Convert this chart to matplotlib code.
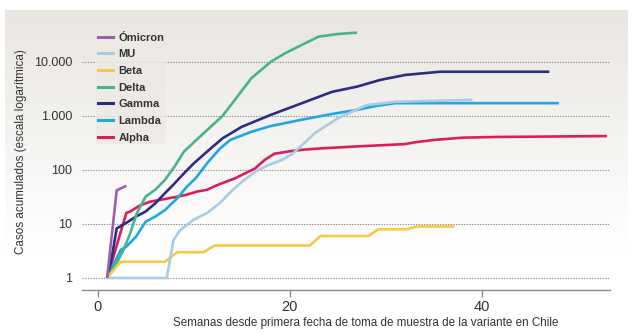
import numpy as np
import matplotlib
matplotlib.use("Agg")
import matplotlib.pyplot as plt
from matplotlib.lines import Line2D

# ---------------- data ----------------
weeks_omicron = [1, 2, 3]
cases_omicron = [1, 42, 51]

weeks_mu = [1, 7.2, 7.9, 8.6, 10, 11.4, 12.8, 13.9, 15, 16.4, 17.8, 19.2, 20.3, 22.6, 25, 26.1, 28, 31, 39]
cases_mu = [1, 1, 5, 7.7, 12, 16, 25, 40, 60, 93, 124, 154, 200, 480, 910, 1120, 1590, 1830, 1990]

weeks_beta = [1, 2.4, 7, 8.3, 11, 12.2, 22.1, 23.2, 28.2, 29.2, 32.2, 33.2, 37.1]
cases_beta = [1, 2, 2, 3, 3, 4, 4, 6, 6, 8, 8, 9, 9]

weeks_delta = [1, 2, 2.7, 3.4, 4.1, 5, 6, 7, 8, 9, 11.4, 13, 14.3, 16, 18, 19.5, 23, 25, 27]
cases_delta = [1, 1.9, 3.3, 6.7, 16, 32, 43, 65, 115, 220, 550, 1000, 2000, 5000, 10000, 14500, 29500, 33000, 35000]

weeks_gamma = [1, 1.5, 2, 3, 4, 5, 6, 7, 8, 9, 10, 11.4, 13, 15, 18, 21.6, 24.4, 27, 29.4, 32, 35.6, 47]
cases_gamma = [1, 2.5, 8.3, 10.5, 13.7, 17, 24, 37, 56, 87, 132, 219, 385, 630, 1045, 1820, 2800, 3500, 4650, 5750, 6600, 6600]

weeks_lambda = [1, 2.4, 3, 4, 5, 6, 7, 8.3, 9.3, 10.2, 11.5, 12.7, 13.8, 16, 18, 21.2, 24.4, 27, 29, 31, 48]
cases_lambda = [1, 3.3, 3.8, 5.8, 11, 13.7, 18, 30, 49, 70, 140, 245, 360, 510, 650, 850, 1090, 1300, 1540, 1730, 1730]

weeks_alpha = [1, 3, 3.4, 4.4, 5.5, 7, 8.3, 9.3, 10.4, 11.4, 12.4, 13.5, 14.3, 15.7, 16.4, 17.4, 18.4, 20, 21.2, 23.3, 27.3, 32, 33, 35, 38, 41.5, 53]
cases_alpha = [1, 16, 17, 22, 26, 29, 32, 35, 40, 43, 52, 62, 70, 93, 107, 154, 200, 222, 236, 252, 275, 302, 325, 360, 397, 409, 425]

variant_names = ["Ómicron", "MU", "Beta", "Delta", "Gamma", "Lambda", "Alpha"]
y_ticks = [1, 10, 100, 1000, 10000]
y_tick_labels = ["1", "10", "100", "1.000", "10.000"]
x_ticks = [0, 20, 40]
x_tick_labels = ["0", "20", "40"]

colors = {
    "Ómicron": "#9c5fae",
    "MU": "#a9cbe3",
    "Beta": "#f6c844",
    "Delta": "#46b48e",
    "Gamma": "#2e2c80",
    "Lambda": "#1ea8e2",
    "Alpha": "#d81f5c",
}

series = {
    "Ómicron": (weeks_omicron, cases_omicron),
    "MU": (weeks_mu, cases_mu),
    "Beta": (weeks_beta, cases_beta),
    "Delta": (weeks_delta, cases_delta),
    "Gamma": (weeks_gamma, cases_gamma),
    "Lambda": (weeks_lambda, cases_lambda),
    "Alpha": (weeks_alpha, cases_alpha),
}

FONT = ["Liberation Sans", "DejaVu Sans"]

W, H = 636, 334
fig = plt.figure(figsize=(W / 100, H / 100), dpi=100)
fig.patch.set_facecolor("white")

# gradient background panel
bg = fig.add_axes([0, 0, 1, 1], zorder=-5)
bg.set_xlim(0, W)
bg.set_ylim(H, 0)
bg.axis("off")
g = np.linspace(0, 1, 256)[:, None, None]
top = np.array([233, 230, 225]) / 255.0
bot = np.array([1.0, 1.0, 1.0])
img = top[None, None, :] * (1 - g) + bot[None, None, :] * g
img = np.repeat(img, 2, axis=1)
bg.imshow(img, extent=[5, 628, 250, 10], aspect="auto", interpolation="bilinear")

# main axes
ax_left, ax_right, ax_top, ax_bottom = 82, 610, 20, 290
ax = fig.add_axes([ax_left / W, 1 - ax_bottom / H, (ax_right - ax_left) / W, (ax_bottom - ax_top) / H])
ax.patch.set_visible(False)
ax.set_yscale("log")
ax.set_ylim(10 ** (-12 / 54), 10 ** (258 / 54))
ax.set_xlim(-15.5 / 9.6125, 512.5 / 9.6125)

for sp in ["top", "right", "left"]:
    ax.spines[sp].set_visible(False)
ax.spines["bottom"].set_color("#8a8a8a")
ax.spines["bottom"].set_linewidth(1.0)

ax.set_yticks(y_ticks)
ax.set_yticklabels(y_tick_labels)
ax.yaxis.set_minor_locator(matplotlib.ticker.NullLocator())
ax.tick_params(axis="y", length=0, pad=7, labelsize=9, labelcolor="#333333")
ax.set_xticks(x_ticks)
ax.set_xticklabels(x_tick_labels)
ax.tick_params(axis="x", length=5, width=1, color="#8a8a8a", pad=2, labelsize=10.5, labelcolor="#333333")
for lab in ax.get_xticklabels() + ax.get_yticklabels():
    lab.set_family(FONT)

ax.yaxis.grid(True, which="major", linestyle=(0, (1.2, 1.2)), color="#8f8f8f", linewidth=0.8)
ax.set_axisbelow(True)

for name in reversed(variant_names):
    xs, ys = series[name]
    ax.plot(xs, ys, color=colors[name], linewidth=1.9, solid_capstyle="butt",
            solid_joinstyle="round", zorder=3)

handles = [Line2D([0], [0], color=colors[n], linewidth=2.2) for n in variant_names]
leg = ax.legend(handles, variant_names, loc="upper left",
                bbox_to_anchor=(96 / W, 1 - 31 / H), bbox_transform=fig.transFigure,
                frameon=True, fancybox=False, handlelength=1.35, handletextpad=0.5,
                labelspacing=0.6, borderpad=0.15, borderaxespad=0,
                prop={"family": FONT, "weight": "bold", "size": 8})
leg.get_frame().set_facecolor("#ece9e5")
leg.get_frame().set_edgecolor("none")
for t in leg.get_texts():
    t.set_color("#333333")
leg.set_zorder(5)

fig.text(21 / W, 1 - 152 / H, "Casos acumulados (escala logarítmica)", rotation=90,
         ha="center", va="center", fontsize=8.4, color="#333333", family=FONT)
fig.text(366 / W, 1 - 323 / H, "Semanas desde primera fecha de toma de muestra de la variante en Chile",
         ha="center", va="center", fontsize=8.4, color="#333333", family=FONT)

fig.savefig("out.png", dpi=100, facecolor="white")
